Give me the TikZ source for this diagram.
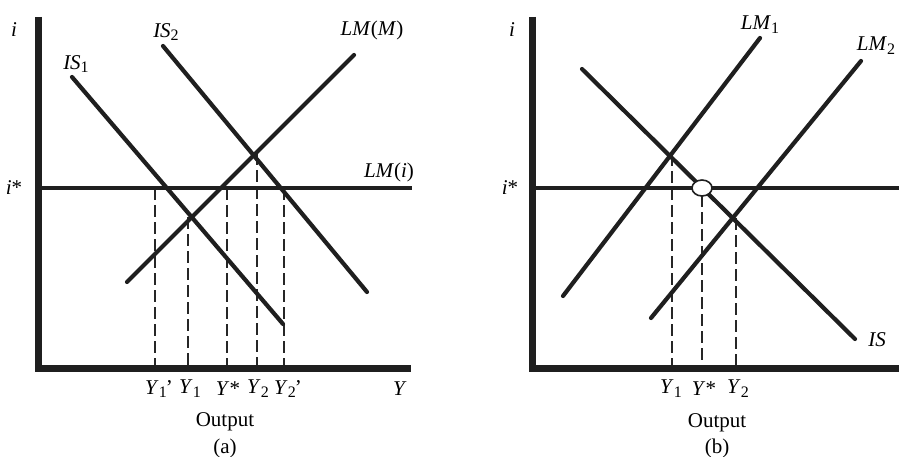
\documentclass[tikz,border=0pt]{standalone}
\usepackage{fontspec}
\setmainfont{Liberation Serif}
\usetikzlibrary{shapes.geometric}
\newcommand{\lowidx}[1]{\raisebox{-0.4ex}{\fontsize{16}{16}\selectfont #1}}
\tikzset{
  axisline/.style={line width=7pt, black!88},
  curve/.style={line width=4.2pt, black!88, line cap=round},
  istar/.style={line width=4pt, black!88},
  guide/.style={line width=1.4pt, black!85, dash pattern=on 12pt off 5pt},
  lbl/.style={font=\fontsize{21}{24}\selectfont, inner sep=0pt},
}
\begin{document}
\begin{tikzpicture}[x=1pt,y=-1pt]
\useasboundingbox (0,0) rectangle (899,457);
% ---------- panel (a) ----------
\coordinate (aTop) at (38,17);
\coordinate (aO) at (38,368);
\coordinate (aRight) at (411,368);
\coordinate (aIl) at (38,188);
\coordinate (aIr) at (412,188);
\coordinate (is1a) at (72,77);   \coordinate (is1b) at (283,324);
\coordinate (is2a) at (163,46);  \coordinate (is2b) at (367,292);
\coordinate (lma)  at (127,282); \coordinate (lmb)  at (354,55);
% dashed guides
\foreach \n/\x/\y in {d1/155/188, d2/188/217, d3/227/188, d4/257/153, d5/284/188}{
  \coordinate (\n t) at (\x,\y); \coordinate (\n b) at (\x,368);
  \draw[guide] (\n t) -- (\n b);
}
\draw[istar] (aIl) -- (aIr);
\draw[curve] (is1a) -- (is1b);
\draw[curve] (is2a) -- (is2b);
\draw[curve] (lma) -- (lmb);
\draw[axisline] (aTop) -- (aO) -- (aRight);
\node[lbl] (ai) at (14,30) {\textit{i}};
\node[lbl] (ais) at (14,188) {\textit{i}*};
\node[lbl] (lis1) at (76,64) {\textit{IS}\lowidx{1}};
\node[lbl] (lis2) at (166,32) {\textit{IS}\lowidx{2}};
\node[lbl] (llmm) at (372,30) {\textit{LM}(\textit{M})};
\node[lbl] (llmi) at (389,172) {\textit{LM}(\textit{i})};
\node[lbl] (ay1p) at (159,389) {\textit{Y}\lowidx{1}\kern-1pt'};
\node[lbl] (ay1) at (190,389) {\textit{Y}\lowidx{1}};
\node[lbl] (ays) at (228,389) {\textit{Y}*};
\node[lbl] (ay2) at (258,389) {\textit{Y}\lowidx{2}};
\node[lbl] (ay2p) at (288,389) {\textit{Y}\lowidx{2}\kern-1pt'};
\node[lbl] (ay) at (400,389) {\textit{Y}};
\node[lbl] (aout) at (225,422) {Output};
\node[lbl] (acap) at (225,448) {(a)};
% ---------- panel (b) ----------
\coordinate (bTop) at (532,17);
\coordinate (bO) at (532,368);
\coordinate (bRight) at (899,368);
\coordinate (bIl) at (532,188);
\coordinate (bIr) at (899,188);
\coordinate (isa) at (582,69);   \coordinate (isb) at (855,339);
\coordinate (lm1a) at (563,296); \coordinate (lm1b) at (760,38);
\coordinate (lm2a) at (651,318); \coordinate (lm2b) at (861,61);
\foreach \n/\x/\y in {e1/672/154, e2/702/195, e3/736/218}{
  \coordinate (\n t) at (\x,\y); \coordinate (\n b) at (\x,368);
  \draw[guide] (\n t) -- (\n b);
}
\draw[istar] (bIl) -- (bIr);
\draw[curve] (isa) -- (isb);
\draw[curve] (lm1a) -- (lm1b);
\draw[curve] (lm2a) -- (lm2b);
\draw[axisline] (bTop) -- (bO) -- (bRight);
\node[draw=black!88, line width=1.6pt, fill=white, ellipse, minimum width=20pt, minimum height=16pt, inner sep=0pt] (eq) at (702,188) {};
\node[lbl] (bi) at (512,30) {\textit{i}};
\node[lbl] (bis) at (510,188) {\textit{i}*};
\node[lbl] (llm1) at (760,25) {\textit{LM}\lowidx{1}};
\node[lbl] (llm2) at (876,46) {\textit{LM}\lowidx{2}};
\node[lbl] (lis) at (877,340) {\textit{IS}};
\node[lbl] (by1) at (671,389) {\textit{Y}\lowidx{1}};
\node[lbl] (bys) at (704,389) {\textit{Y}*};
\node[lbl] (by2) at (738,389) {\textit{Y}\lowidx{2}};
\node[lbl] (bout) at (717,423) {Output};
\node[lbl] (bcap) at (717,448) {(b)};
\end{tikzpicture}
\end{document}
